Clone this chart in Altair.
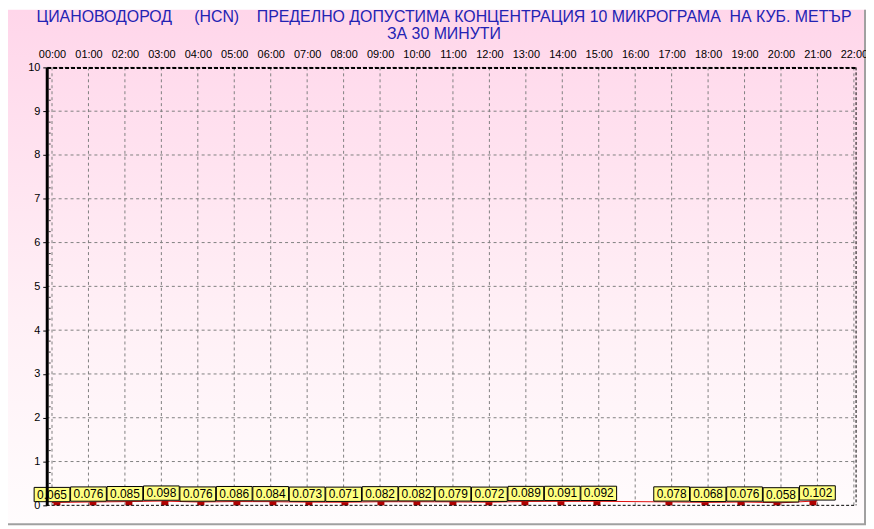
import altair as alt
import pandas as pd

# ---- data -------------------------------------------------------------
hours = [0, 1, 2, 3, 4, 5, 6, 7, 8, 9, 10, 11, 12, 13, 14, 15, 17, 18, 19, 20, 21]
values = [0.065, 0.076, 0.085, 0.098, 0.076, 0.086, 0.084, 0.073, 0.071, 0.082,
          0.082, 0.079, 0.072, 0.089, 0.091, 0.092, 0.078, 0.068, 0.076, 0.058, 0.102]
hour_ticks = list(range(0, 23))
y_ticks = list(range(0, 11))
y_minor = [i / 4 for i in range(0, 41) if i % 4 != 0]
title_line1 = ("ЦИАНОВОДОРОД\u00a0\u00a0\u00a0\u00a0\u00a0(HCN)\u00a0\u00a0\u00a0\u00a0ПРЕДЕЛНО "
               "ДОПУСТИМА КОНЦЕНТРАЦИЯ 10 МИКРОГРАМА\u00a0\u00a0НА КУБ. МЕТЪР")
title_line2 = "ЗА 30 МИНУТИ"

df = pd.DataFrame({"hour": hours, "value": values,
                   "label": [f"{v:.3f}" for v in values]})
grid_x = pd.DataFrame({"hour": hour_ticks})
grid_y = pd.DataFrame({"value": y_ticks[1:]})
minor = pd.DataFrame({"value": y_minor})
one = pd.DataFrame({"a": [0]})

W, H = 815, 441
FONT = "Liberation Sans"

xscale = alt.Scale(domain=[-0.145, 22.06], nice=False, zero=False)
yscale = alt.Scale(domain=[0, 10], nice=False)
X = alt.X("hour:Q", scale=xscale, axis=None)
Y = alt.Y("value:Q", scale=yscale, axis=None)

bg = alt.Chart(one).mark_rect(
    fill=alt.LinearGradient(
        gradient="linear", x1=0, y1=0, x2=0, y2=1,
        stops=[alt.GradientStop(color="#ffd6ea", offset=0),
               alt.GradientStop(color="#fff0f6", offset=0.6),
               alt.GradientStop(color="#fffcfd", offset=1)]),
    stroke=None,
).encode(x=alt.value(-39), x2=alt.value(W + 10), y=alt.value(-58), y2=alt.value(H + 20))

title1 = alt.Chart(one).mark_text(
    text=title_line1, font=FONT, fontSize=16, color="#2323b4", align="center",
    baseline="alphabetic").encode(x=alt.value(400), y=alt.value(-46))
title2 = alt.Chart(one).mark_text(
    text=title_line2, font=FONT, fontSize=16, color="#2323b4", align="center",
    baseline="alphabetic").encode(x=alt.value(400), y=alt.value(-29))

vgrid = alt.Chart(grid_x).mark_rule(color="#808080", strokeDash=[3, 3], strokeWidth=1).encode(
    x=X, y=alt.value(0), y2=alt.value(H))
hgrid = alt.Chart(grid_y).mark_rule(color="#808080", strokeDash=[3, 3], strokeWidth=1).encode(
    y=Y, x=alt.value(0), x2=alt.value(W))
minor_ticks = alt.Chart(minor).mark_rule(color="#404040", strokeWidth=1).encode(
    y=Y, x=alt.value(2), x2=alt.value(4))

line = alt.Chart(df).mark_line(color="#e01010", strokeWidth=1).encode(x=X, y=Y)
bars = alt.Chart(df).mark_bar(size=7, color="#b00000").encode(x=X, y=Y)

box_shape = "M-1,-0.4L1,-0.4L1,0.4L-1,0.4Z"
boxes = alt.Chart(df).mark_point(
    shape=box_shape, size=36 * 36, filled=True, fill="#ffff80",
    stroke="#000000", strokeWidth=1, opacity=1, yOffset=-8,
).encode(x=X, y=Y)
labels = alt.Chart(df).mark_text(
    font=FONT, fontSize=12, color="#000000", dy=-8, baseline="middle", align="center",
).encode(x=X, y=Y, text="label:N")

borders = [
    alt.Chart(one).mark_rule(color="#000000", strokeWidth=1, strokeDash=[3, 2]).encode(
        x=alt.value(W), y=alt.value(0), y2=alt.value(H)),
    alt.Chart(one).mark_rule(color="#000000", strokeWidth=1, strokeDash=[3, 2]).encode(
        x=alt.value(0), x2=alt.value(W), y=alt.value(H)),
    alt.Chart(one).mark_rule(color="#a0a0a0", strokeWidth=2).encode(
        x=alt.value(W + 9), y=alt.value(-58), y2=alt.value(H + 19)),
    alt.Chart(one).mark_rule(color="#a0a0a0", strokeWidth=2).encode(
        x=alt.value(-39), x2=alt.value(W + 10), y=alt.value(H + 19)),
]

axes_layer = alt.Chart(df).mark_point(opacity=0).encode(
    x=alt.X("hour:Q", scale=xscale, title=None,
            axis=alt.Axis(orient="top", values=hour_ticks, grid=False, ticks=False,
                          labelExpr="(datum.value < 10 ? '0' : '') + datum.value + ':00'",
                          labelFont=FONT, labelFontSize=11, labelColor="#000000",
                          labelPadding=8, labelFlush=False, labelOverlap=False,
                          labelBound=False,
                          domainColor="#000000", domainWidth=2, domainDash=[4, 2],
                          zindex=1)),
    y=alt.Y("value:Q", scale=yscale, title=None,
            axis=alt.Axis(values=y_ticks, grid=False, ticks=True, tickSize=4,
                          tickColor="#000000",
                          labelFont=FONT, labelFontSize=11, labelColor="#000000",
                          labelPadding=3, labelFlush=False, labelOverlap=False,
                          domainColor="#000000", domainWidth=3, zindex=1)),
)

chart = alt.layer(bg, title1, title2, vgrid, hgrid, line, bars, axes_layer, minor_ticks,
                  *borders, boxes, labels).resolve_scale(
    x="independent", y="independent").properties(
    width=W, height=H,
    autosize=alt.AutoSizeParams(type="none"),
    padding={"left": 39, "top": 58, "right": 10, "bottom": 20},
).configure_view(stroke=None).configure(background="#ffffff")

chart.save("out.html", embed_options={"renderer": "svg", "actions": False})
